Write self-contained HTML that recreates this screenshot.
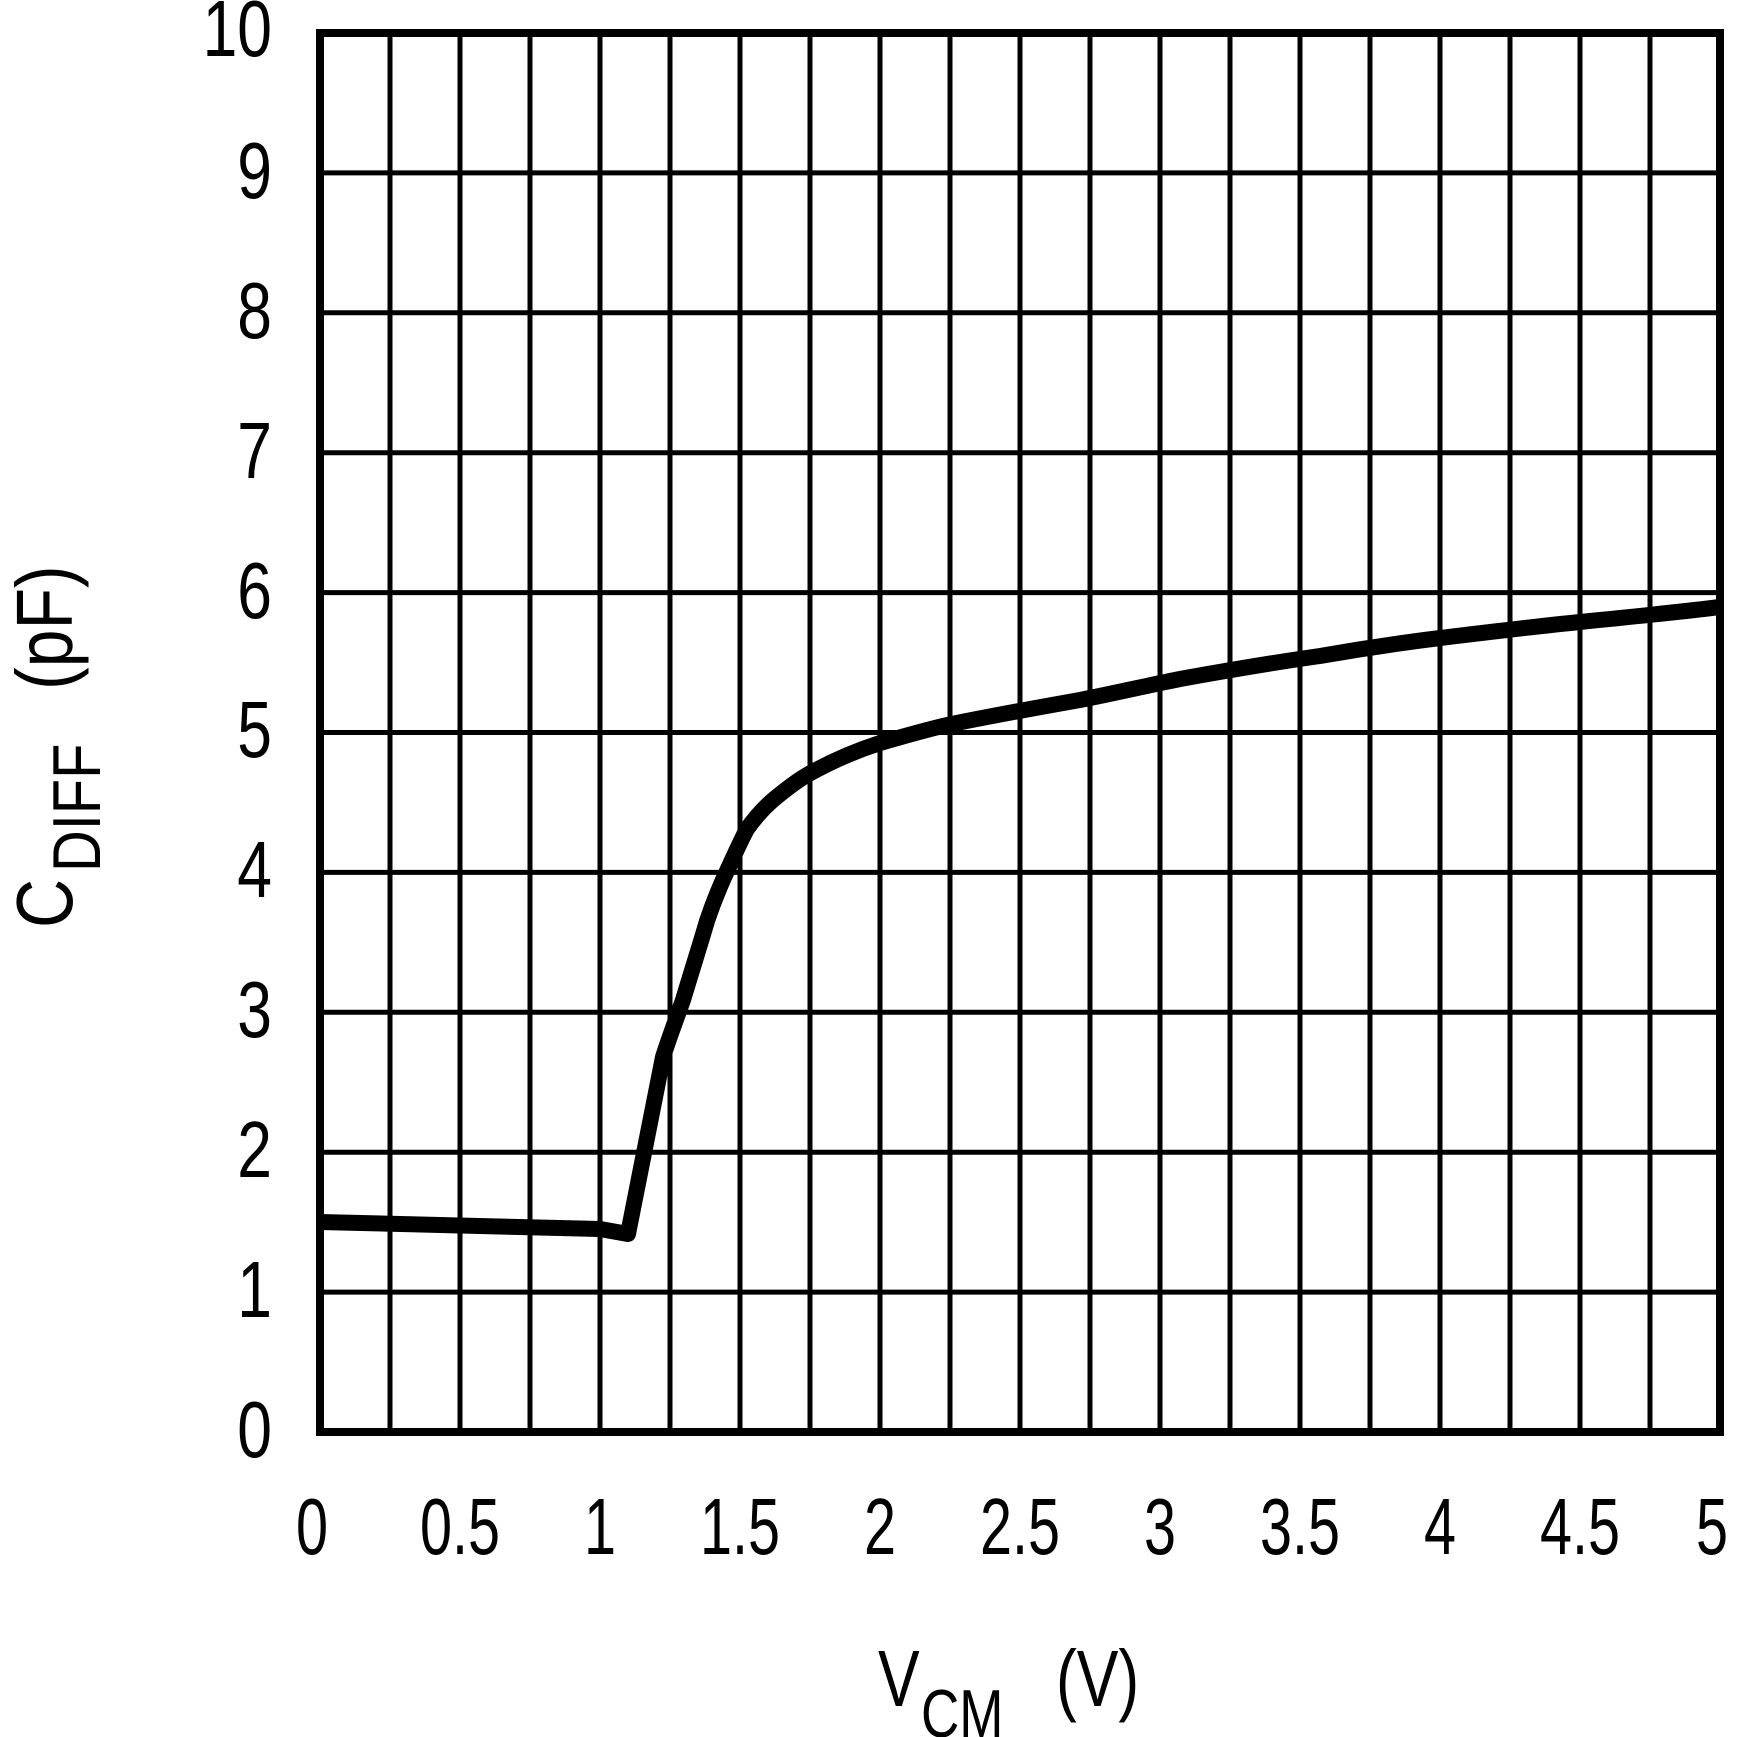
<!DOCTYPE html>
<html><head><style>html,body{margin:0;padding:0;background:#fff}svg{display:block}</style></head>
<body>
<svg width="1738" height="1737" viewBox="0 0 1738 1737" xmlns="http://www.w3.org/2000/svg">
<g stroke="#000" stroke-width="5">
<path d="M390 33V1432M460 33V1432M530 33V1432M600 33V1432M670 33V1432M740 33V1432M810 33V1432M880 33V1432M950 33V1432M1020 33V1432M1090 33V1432M1160 33V1432M1230 33V1432M1300 33V1432M1370 33V1432M1440 33V1432M1510 33V1432M1580 33V1432M1650 33V1432"/>
<path d="M320 172.9H1720M320 312.8H1720M320 452.7H1720M320 592.6H1720M320 732.5H1720M320 872.4H1720M320 1012.3H1720M320 1152.2H1720M320 1292.1H1720"/>
</g>
<rect x="320" y="33" width="1400" height="1399" fill="none" stroke="#000" stroke-width="8"/>
<path d="M320 1222 L600 1229 L628 1234 L663 1057 C670 1035 676 1020 683 1000 C692 970 700 945 707 921 C714 900 720 886 727 871 C734 856 740 842 747 829 C757 815 765 807 773 800 C785 790 795 782 807 775 C830 762 855 751 880 743 C905 736 925 730 947 725 C990 716 1035 708 1080 700 C1120 692 1150 685 1180 679 C1230 670 1270 663 1320 656 C1360 649 1400 643 1440 638 C1490 632 1530 627 1580 622 C1630 617 1680 612 1720 607" fill="none" stroke="#000" stroke-width="16" stroke-linejoin="round"/>
<g font-family="Liberation Sans, sans-serif" font-size="80" fill="#000">
<g text-anchor="end">
<text transform="translate(272 1457) scale(0.78 1)">0</text>
<text transform="translate(272 1317) scale(0.78 1)">1</text>
<text transform="translate(272 1177) scale(0.78 1)">2</text>
<text transform="translate(272 1037) scale(0.78 1)">3</text>
<text transform="translate(272 897) scale(0.78 1)">4</text>
<text transform="translate(272 757) scale(0.78 1)">5</text>
<text transform="translate(272 618) scale(0.78 1)">6</text>
<text transform="translate(272 478) scale(0.78 1)">7</text>
<text transform="translate(272 338) scale(0.78 1)">8</text>
<text transform="translate(272 198) scale(0.78 1)">9</text>
<text transform="translate(272 56) scale(0.78 1)">10</text>
</g>
<g text-anchor="middle">
<text transform="translate(312 1554) scale(0.72 1)">0</text>
<text transform="translate(460 1554) scale(0.72 1)">0.5</text>
<text transform="translate(600 1554) scale(0.72 1)">1</text>
<text transform="translate(740 1554) scale(0.72 1)">1.5</text>
<text transform="translate(880 1554) scale(0.72 1)">2</text>
<text transform="translate(1020 1554) scale(0.72 1)">2.5</text>
<text transform="translate(1160 1554) scale(0.72 1)">3</text>
<text transform="translate(1300 1554) scale(0.72 1)">3.5</text>
<text transform="translate(1440 1554) scale(0.72 1)">4</text>
<text transform="translate(1580 1554) scale(0.72 1)">4.5</text>
<text transform="translate(1712 1554) scale(0.72 1)">5</text>
</g>
<text transform="translate(878 1706) scale(0.78 1)">V</text>
<text transform="translate(921 1737) scale(0.78 1)" font-size="68">CM</text>
<text transform="translate(1056 1706) scale(0.78 1)">(V)</text>
<g transform="translate(72 928) rotate(-90)">
<text transform="scale(0.85 1)">C</text>
<text transform="translate(56 28) scale(0.85 1)" font-size="68">DIFF</text>
<text transform="translate(238 0) scale(0.85 1)">(pF)</text>
</g>
</g>
</svg>
</body></html>
